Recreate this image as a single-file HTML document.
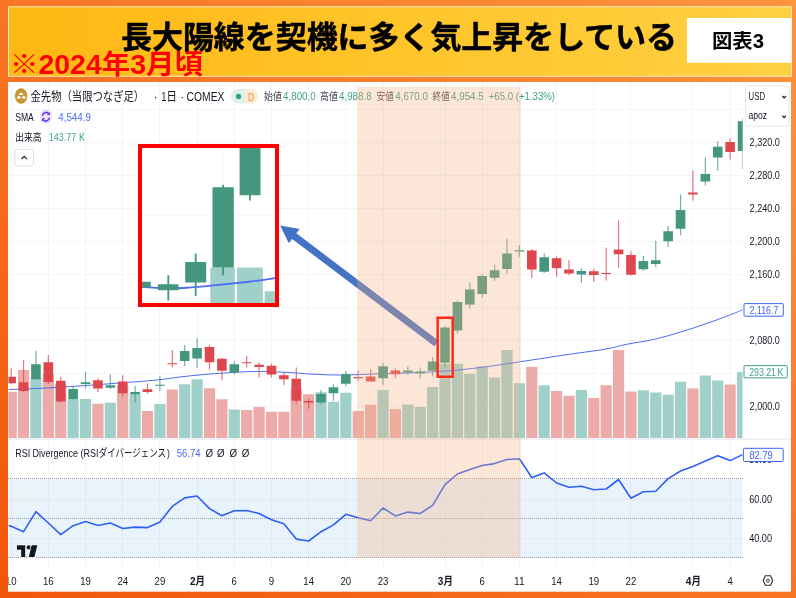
<!DOCTYPE html>
<html><head><meta charset="utf-8"><title>chart</title>
<style>html,body{margin:0;padding:0;background:#F87325;}body{width:796px;height:598px;overflow:hidden;font-family:"Liberation Sans",sans-serif;}svg{display:block;will-change:transform}</style>
</head><body>
<svg width="796" height="598" viewBox="0 0 796 598" font-family="'Liberation Sans', 'Noto Sans CJK JP', sans-serif"><defs><clipPath id="ta"><rect x="8.5" y="570" width="782" height="21"/></clipPath></defs><defs>
<linearGradient id="bg" x1="0" y1="1" x2="1" y2="0"><stop offset="0" stop-color="#F1560A"/><stop offset="1" stop-color="#FF943E"/></linearGradient>
<linearGradient id="tb" x1="0" y1="0" x2="1" y2="0"><stop offset="0" stop-color="#FFB813"/><stop offset="1" stop-color="#FFD142"/></linearGradient>
<clipPath id="plot"><rect x="8.5" y="81" width="734" height="358"/></clipPath>
<clipPath id="rsi"><rect x="8.5" y="440" width="734.3" height="126"/></clipPath>
<clipPath id="inset"><rect x="142" y="148" width="133" height="155"/></clipPath>
</defs>
<rect width="796" height="598" fill="url(#bg)"/>
<rect x="8.5" y="6.7" width="783" height="69.6" fill="url(#tb)" stroke="#FFE7BE" stroke-width="1"/>
<text x="121" y="47.5" font-size="31" font-weight="bold" fill="#000" stroke="#000" stroke-width="0.5" stroke-linejoin="round" textLength="556" lengthAdjust="spacingAndGlyphs">長大陽線を契機に多く気上昇をしている</text>
<text x="10" y="74.2" font-size="27" font-weight="bold" fill="#FF0000" textLength="193" lengthAdjust="spacingAndGlyphs">※2024年3月頃</text>
<rect x="687" y="18" width="104.5" height="44.8" fill="#fff"/>
<text x="712" y="48.2" font-size="19.5" font-weight="bold" fill="#000" textLength="52" lengthAdjust="spacingAndGlyphs">図表3</text>
<rect x="8" y="82" width="783" height="509.7" fill="#fff"/>
<path d="M8.5 109.5H742.5M8.5 142.5H742.5M8.5 175.5H742.5M8.5 208.5H742.5M8.5 241.5H742.5M8.5 274.5H742.5M8.5 307.5H742.5M8.5 340.5H742.5M8.5 373.5H742.5M8.5 406.5H742.5M11.5 82V438.5M48.5 82V438.5M85.5 82V438.5M122.5 82V438.5M159.5 82V438.5M197.5 82V438.5M234.5 82V438.5M271.5 82V438.5M308.5 82V438.5M345.5 82V438.5M383.5 82V438.5M445.5 82V438.5M482.5 82V438.5M519.5 82V438.5M556.5 82V438.5M593.5 82V438.5M630.5 82V438.5M692.5 82V438.5M730.5 82V438.5M8.5 499.5H742.5M8.5 538.5H742.5M11.5 440V568.5M48.5 440V568.5M85.5 440V568.5M122.5 440V568.5M159.5 440V568.5M197.5 440V568.5M234.5 440V568.5M271.5 440V568.5M308.5 440V568.5M345.5 440V568.5M383.5 440V568.5M445.5 440V568.5M482.5 440V568.5M519.5 440V568.5M556.5 440V568.5M593.5 440V568.5M630.5 440V568.5M692.5 440V568.5M730.5 440V568.5" stroke="#F4F5F6" stroke-width="1" fill="none"/>
<path d="M8.5 439H791" stroke="#E0E3EB" stroke-width="1"/>
<g clip-path="url(#plot)">
<path d="M30.35 377.2h11.2V438.0h-11.2zM67.54 399.3h11.2V438.0h-11.2zM79.94 398.9h11.2V438.0h-11.2zM104.73 402.8h11.2V438.0h-11.2zM129.52 393.9h11.2V438.0h-11.2zM154.31 404h11.2V438.0h-11.2zM179.1 384.3h11.2V438.0h-11.2zM191.5 379.2h11.2V438.0h-11.2zM228.69 409.4h11.2V438.0h-11.2zM315.46 392.3h11.2V438.0h-11.2zM327.86 401.8h11.2V438.0h-11.2zM340.25 392.7h11.2V438.0h-11.2zM377.44 389.9h11.2V438.0h-11.2zM402.23 404.4h11.2V438.0h-11.2zM414.63 407h11.2V438.0h-11.2zM427.02 387.1h11.2V438.0h-11.2zM439.42 363.8h11.2V438.0h-11.2zM451.82 363.8h11.2V438.0h-11.2zM464.21 373.8h11.2V438.0h-11.2zM476.61 366.2h11.2V438.0h-11.2zM489 377.4h11.2V438.0h-11.2zM501.4 350.1h11.2V438.0h-11.2zM513.8 383.3h11.2V438.0h-11.2zM538.59 385.3h11.2V438.0h-11.2zM575.78 390.1h11.2V438.0h-11.2zM637.76 390.3h11.2V438.0h-11.2zM650.15 392.4h11.2V438.0h-11.2zM662.55 394.8h11.2V438.0h-11.2zM674.94 381.7h11.2V438.0h-11.2zM699.74 375.6h11.2V438.0h-11.2zM712.13 380.4h11.2V438.0h-11.2zM736.92 372.1h11.2V438.0h-11.2z" fill="#A0D0CA"/><path d="M5.56 391.7h11.2V438.0h-11.2zM17.96 370h11.2V438.0h-11.2zM42.75 373.8h11.2V438.0h-11.2zM55.14 383.9h11.2V438.0h-11.2zM92.33 403.8h11.2V438.0h-11.2zM117.12 385.3h11.2V438.0h-11.2zM141.92 411h11.2V438.0h-11.2zM166.71 389.5h11.2V438.0h-11.2zM203.9 388.3h11.2V438.0h-11.2zM216.29 399.3h11.2V438.0h-11.2zM241.08 410h11.2V438.0h-11.2zM253.48 407h11.2V438.0h-11.2zM265.88 411.8h11.2V438.0h-11.2zM278.27 411.8h11.2V438.0h-11.2zM290.67 388.9h11.2V438.0h-11.2zM303.06 394.3h11.2V438.0h-11.2zM352.65 411h11.2V438.0h-11.2zM365.04 404.8h11.2V438.0h-11.2zM389.84 409h11.2V438.0h-11.2zM526.19 366.8h11.2V438.0h-11.2zM550.98 390.9h11.2V438.0h-11.2zM563.38 395.7h11.2V438.0h-11.2zM588.17 397.9h11.2V438.0h-11.2zM600.57 385.3h11.2V438.0h-11.2zM612.96 349.9h11.2V438.0h-11.2zM625.36 391.6h11.2V438.0h-11.2zM687.34 388.4h11.2V438.0h-11.2zM724.53 384.4h11.2V438.0h-11.2z" fill="#ECAAA8"/>
<path d="M8 389.6C13.37 389.38 28.13 388.92 40.2 388.3C52.27 387.68 67 386.8 80.4 385.9C93.8 385 108.17 383.85 120.6 382.9C133.03 381.95 143.4 381.38 155 380.2C166.6 379.02 177.63 377.07 190.2 375.8C202.77 374.53 218.67 373.33 230.4 372.6C242.13 371.87 250.55 371.4 260.6 371.4C270.65 371.4 282.47 372.17 290.7 372.6C298.93 373.03 301.75 373.6 310 374C318.25 374.4 328.47 375.03 340.2 375C351.93 374.97 367 374.23 380.4 373.8C393.8 373.37 408.17 372.98 420.6 372.4C433.03 371.82 443.4 371.33 455 370.3C466.6 369.27 477.63 367.88 490.2 366.2C502.77 364.52 517 362.22 530.4 360.2C543.8 358.18 558.17 355.93 570.6 354.1C583.03 352.27 595.65 350.83 605 349.2C614.35 347.57 618.62 345.92 626.7 344.3C634.78 342.68 644.58 341.52 653.5 339.5C662.42 337.48 671.28 334.88 680.2 332.2C689.12 329.52 698.08 326.52 707 323.4C715.92 320.28 727.78 315.82 733.7 313.5C739.62 311.18 741.03 310.17 742.5 309.5" stroke="#4A6CF7" stroke-width="1" fill="none"/>
<path d="M35.35 350.9h1.2V379.2h-1.2zM72.54 385.7h1.2V399.3h-1.2zM84.94 371.8h1.2V388.3h-1.2zM109.73 374.2h1.2V388.9h-1.2zM134.52 385.9h1.2V402.8h-1.2zM159.31 376.2h1.2V390.7h-1.2zM184.1 345.1h1.2V366.2h-1.2zM196.5 338h1.2V367.8h-1.2zM233.69 361.2h1.2V374.2h-1.2zM320.46 389.9h1.2V404.4h-1.2zM332.86 384.3h1.2V400.8h-1.2zM345.25 371.2h1.2V386.3h-1.2zM382.44 362.8h1.2V384.9h-1.2zM407.23 366.2h1.2V374.6h-1.2zM419.63 367.4h1.2V378.2h-1.2zM432.02 357.1h1.2V376.6h-1.2zM444.42 325.9h1.2V367.2h-1.2zM456.82 300.4h1.2V333.6h-1.2zM469.21 282.3h1.2V308.4h-1.2zM481.61 273.9h1.2V297.4h-1.2zM494 264.6h1.2V280.7h-1.2zM506.4 239.1h1.2V273.3h-1.2zM518.8 245.1h1.2V256.8h-1.2zM543.59 253.6h1.2V272.9h-1.2zM580.78 268.3h1.2V283h-1.2zM642.76 255.9h1.2V270.8h-1.2zM655.15 240.8h1.2V267.3h-1.2zM667.55 226.1h1.2V246.8h-1.2zM679.94 194.5h1.2V235.2h-1.2zM704.74 157.4h1.2V185.5h-1.2zM717.13 140.9h1.2V170.4h-1.2zM741.92 118.2h1.2V169.4h-1.2z" fill="#45967F" opacity="0.75"/><path d="M10.56 368.2h1.2V384.3h-1.2zM22.96 360.2h1.2V391.9h-1.2zM47.75 354.9h1.2V383.9h-1.2zM60.14 376.8h1.2V402.4h-1.2zM97.33 378.2h1.2V391.9h-1.2zM122.12 375.2h1.2V396.7h-1.2zM146.92 383.3h1.2V393.7h-1.2zM171.71 350.1h1.2V367.6h-1.2zM208.9 344.7h1.2V369.6h-1.2zM221.29 357.7h1.2V380.3h-1.2zM246.08 356.1h1.2V367.6h-1.2zM258.48 362.2h1.2V377.6h-1.2zM270.88 363.6h1.2V377.6h-1.2zM283.27 372.2h1.2V384.9h-1.2zM295.67 367.6h1.2V403.8h-1.2zM308.06 398.3h1.2V408.8h-1.2zM357.65 370.6h1.2V380.7h-1.2zM370.04 369.2h1.2V381.5h-1.2zM394.84 368.2h1.2V378.2h-1.2zM531.19 249.1h1.2V277.7h-1.2zM555.98 256.6h1.2V276.7h-1.2zM568.38 260.2h1.2V275.3h-1.2zM593.17 268.9h1.2V282h-1.2zM605.57 247.8h1.2V280.4h-1.2zM617.96 220.5h1.2V267.7h-1.2zM630.36 251.3h1.2V275.6h-1.2zM692.34 170.4h1.2V200.6h-1.2zM729.53 138.3h1.2V159.4h-1.2z" fill="#DE474D" opacity="0.75"/>
<path d="M31.15 364.2h9.6v15h-9.6zM68.34 388.9h9.6v10.4h-9.6zM80.74 382.3h9.6v1.6h-9.6zM105.53 385.3h9.6v2.4h-9.6zM130.32 391.9h9.6v2.4h-9.6zM155.11 384.7h9.6v1h-9.6zM179.9 351.1h9.6v9.9h-9.6zM192.3 348.1h9.6v10.4h-9.6zM229.49 364.2h9.6v8h-9.6zM316.26 393.9h9.6v8.5h-9.6zM328.66 387.3h9.6v6h-9.6zM341.05 374.2h9.6v9.5h-9.6zM378.24 366.2h9.6v12h-9.6zM403.03 370.6h9.6v2h-9.6zM415.43 371.6h9.6v1.8h-9.6zM427.82 361.6h9.6v9.2h-9.6zM440.22 327.5h9.6v35.3h-9.6zM452.62 302h9.6v28.6h-9.6zM465.01 289.5h9.6v14.9h-9.6zM477.41 275.9h9.6v18.1h-9.6zM489.8 270.3h9.6v7.4h-9.6zM502.2 253.4h9.6v15.6h-9.6zM514.6 250.2h9.6v1.2h-9.6zM539.39 257.2h9.6v14.5h-9.6zM576.58 271h9.6v3.6h-9.6zM638.56 260.9h9.6v8.4h-9.6zM650.95 260.3h9.6v3.6h-9.6zM663.35 231.2h9.6v10h-9.6zM675.74 210h9.6v18.7h-9.6zM700.54 174h9.6v7.5h-9.6zM712.93 146.7h9.6v10.7h-9.6zM737.72 121.2h9.6v29.7h-9.6z" fill="#45967F"/><path d="M6.36 376.8h9.6v6.5h-9.6zM18.76 382.3h9.6v8.6h-9.6zM43.55 362.2h9.6v19.7h-9.6zM55.94 380.7h9.6v20.7h-9.6zM93.13 380.3h9.6v8.2h-9.6zM117.92 381.5h9.6v11.8h-9.6zM142.72 389.3h9.6v2.6h-9.6zM167.51 363.2h9.6v1h-9.6zM204.7 347.1h9.6v15.1h-9.6zM217.09 358.7h9.6v12.1h-9.6zM241.88 362.2h9.6v1h-9.6zM254.28 364.8h9.6v2.2h-9.6zM266.68 365.8h9.6v8.8h-9.6zM279.07 375.2h9.6v4h-9.6zM291.47 378.8h9.6v22h-9.6zM303.86 401h9.6v1.4h-9.6zM353.45 377h9.6v1.2h-9.6zM365.84 376.6h9.6v4.9h-9.6zM390.64 370.6h9.6v3.6h-9.6zM526.99 250.6h9.6v19h-9.6zM551.78 258.2h9.6v10h-9.6zM564.18 269.6h9.6v3.9h-9.6zM588.97 271.2h9.6v3.8h-9.6zM601.37 273h9.6v1h-9.6zM613.76 249.6h9.6v4.7h-9.6zM626.16 254.9h9.6v19.9h-9.6zM688.14 192.5h9.6v2h-9.6zM725.33 141.9h9.6v10h-9.6z" fill="#DE474D"/>
</g>
<rect x="8.5" y="478.7" width="734.3" height="79" fill="#E9F3FC"/>
<path d="M8.5 499.5H742.5M8.5 538.5H742.5M11.5 478.7V557.7M48.5 478.7V557.7M85.5 478.7V557.7M122.5 478.7V557.7M159.5 478.7V557.7M197.5 478.7V557.7M234.5 478.7V557.7M271.5 478.7V557.7M308.5 478.7V557.7M345.5 478.7V557.7M383.5 478.7V557.7M445.5 478.7V557.7M482.5 478.7V557.7M519.5 478.7V557.7M556.5 478.7V557.7M593.5 478.7V557.7M630.5 478.7V557.7M692.5 478.7V557.7M730.5 478.7V557.7" stroke="#E1EAF2" stroke-width="1" fill="none"/>
<path d="M8 478.5H743" stroke="#9A9DA6" stroke-width="1" stroke-dasharray="1 1" fill="none" shape-rendering="crispEdges"/>
<path d="M8 518.5H743" stroke="#9A9DA6" stroke-width="1" stroke-dasharray="1 1" fill="none" shape-rendering="crispEdges"/>
<path d="M8 557.5H743" stroke="#9A9DA6" stroke-width="1" stroke-dasharray="1 1" fill="none" shape-rendering="crispEdges"/>
<g clip-path="url(#rsi)"><path d="M8.3 525.6L11.16 526.3L23.56 531.7L35.95 511.6L48.35 523L60.74 534.7L73.14 525.7L85.54 521.6L97.93 525.5L110.33 523L122.72 528.5L135.12 527.1L147.52 527.6L159.91 521.9L172.31 506.4L184.7 497.9L197.1 496L209.5 508.6L221.89 515.7L234.29 510.7L246.68 510.5L259.08 513.5L271.48 519.7L283.87 523.8L296.27 539.1L308.66 541L321.06 531.7L333.46 524.9L345.85 514.3L358.25 517.8L370.64 520.8L383.04 508L395.44 515.9L407.83 512.1L420.23 513.5L432.62 505.3L445.02 484.6L457.42 474L469.81 469.6L482.21 465.5L494.6 463.6L507 459.5L519.4 458.7L531.79 477.5L544.19 472.9L556.58 483L568.98 487.3L581.38 486.2L593.77 489.8L606.17 489L618.56 479.5L630.96 498.3L643.36 491.7L655.75 491.2L668.15 478.6L680.54 471L692.94 466.4L705.34 460.9L717.73 455.7L730.13 460.6L742.52 454.6" stroke="#2F5FF5" stroke-width="1.6" fill="none" stroke-linejoin="round"/></g>
<ellipse cx="21.15" cy="96.05" rx="6.25" ry="7.75" fill="#C8962E"/>
<path d="M18.9 95.1q.3-2.6 2.2-2.6t2.2 2.6zM16.7 98.6q.3-2.8 2.1-2.8t2 2.8zM21.8 98.6q.2-2.8 2-2.8t2.1 2.8z" fill="#fff"/>
<text x="30.5" y="101.1" font-size="12.3" fill="#131722" textLength="113.7" lengthAdjust="spacingAndGlyphs">金先物（当限つなぎ足）</text>
<text x="153.4" y="101.1" font-size="12.3" fill="#131722" >·</text>
<text x="161.3" y="101.1" font-size="12.3" fill="#131722" textLength="5.2" lengthAdjust="spacingAndGlyphs" >1</text>
<text x="166.6" y="101.1" font-size="12.3" fill="#131722" textLength="10.4" lengthAdjust="spacingAndGlyphs">日</text>
<text x="180.2" y="101.1" font-size="12.3" fill="#131722" >·</text>
<text x="186.6" y="101.1" font-size="12.3" fill="#131722" textLength="37.8" lengthAdjust="spacingAndGlyphs" >COMEX</text>
<path d="M238.1 89h6.8v14.4h-6.8a7.2 7.2 0 0 1 0-14.4z" fill="#DDEFE9"/>
<path d="M244.9 89h6.1a7.2 7.2 0 0 1 0 14.4h-6.1z" fill="#FDEBD7"/>
<circle cx="238.5" cy="96.4" r="2.6" fill="#2E9E85"/>
<text x="247.9" y="100.5" font-size="11" fill="#F0892B" textLength="6.1" lengthAdjust="spacingAndGlyphs" >D</text>
<text x="264" y="100.2" font-size="10.7" fill="#40444F" textLength="17.8" lengthAdjust="spacingAndGlyphs">始値</text>
<text x="283.1" y="100.2" font-size="10.7" fill="#3D9F8B" textLength="32.5" lengthAdjust="spacingAndGlyphs" >4,800.0</text>
<text x="320" y="100.2" font-size="10.7" fill="#40444F" textLength="17.8" lengthAdjust="spacingAndGlyphs">高値</text>
<text x="339" y="100.2" font-size="10.7" fill="#3D9F8B" textLength="32.6" lengthAdjust="spacingAndGlyphs" >4,988.8</text>
<text x="376.6" y="100.2" font-size="10.7" fill="#40444F" textLength="17.4" lengthAdjust="spacingAndGlyphs">安値</text>
<text x="395.3" y="100.2" font-size="10.7" fill="#3D9F8B" textLength="32.6" lengthAdjust="spacingAndGlyphs" >4,670.0</text>
<text x="432.6" y="100.2" font-size="10.7" fill="#40444F" textLength="17.2" lengthAdjust="spacingAndGlyphs">終値</text>
<text x="451.1" y="100.2" font-size="10.7" fill="#3D9F8B" textLength="32.6" lengthAdjust="spacingAndGlyphs" >4,954.5</text>
<text x="488.7" y="100.2" font-size="10.7" fill="#3D9F8B" textLength="66.3" lengthAdjust="spacingAndGlyphs" >+65.0 (+1.33%)</text>
<text x="15.2" y="120.8" font-size="10.8" fill="#131722" textLength="18.6" lengthAdjust="spacingAndGlyphs" >SMA</text>
<ellipse cx="45.95" cy="116.7" rx="6.25" ry="7.5" fill="#ECE4FB"/>
<g transform="translate(45.95 116.7) scale(0.86 1)"><path d="M-4.1 -0.9a4.2 4.2 0 0 1 7.4 -1.9M4.1 0.9a4.2 4.2 0 0 1 -7.4 1.9" stroke="#6236F0" stroke-width="1.7" fill="none"/><path d="M4.6 -5.0v3.4h-3.4zM-4.6 5.0v-3.4h3.4z" fill="#6236F0"/></g>
<text x="58.3" y="120.8" font-size="10.5" fill="#4A6CF7" textLength="32.6" lengthAdjust="spacingAndGlyphs" >4,544.9</text>
<text x="15.2" y="140.7" font-size="10.5" fill="#131722" textLength="26.4" lengthAdjust="spacingAndGlyphs">出来高</text>
<text x="48.8" y="140.7" font-size="10.5" fill="#3D9F8B" textLength="27.4" lengthAdjust="spacingAndGlyphs" >143.77</text>
<text x="78.9" y="140.7" font-size="10.5" fill="#3D9F8B" textLength="6" lengthAdjust="spacingAndGlyphs" >K</text>
<rect x="14.8" y="149.3" width="18.8" height="16.7" rx="2.5" fill="#fff" stroke="#DDDFE4" stroke-width="1"/>
<path d="M21.5 159.2l2.7-2.9 2.7 2.9" stroke="#131722" stroke-width="1.1" fill="none"/>
<rect x="745.5" y="86" width="43.7" height="40.3" rx="3" fill="#fff" stroke="#E6E8EC" stroke-width="1"/>
<text x="748.6" y="99.8" font-size="10.8" fill="#131722" textLength="16.4" lengthAdjust="spacingAndGlyphs" >USD</text>
<text x="748.4" y="119.4" font-size="10.8" fill="#131722" textLength="18.6" lengthAdjust="spacingAndGlyphs" >apoz</text>
<path d="M782.3 96.0l1.8 1.9 1.8-1.9" stroke="#131722" stroke-width="1.2" fill="none"/>
<path d="M782.3 115.7l1.8 1.9 1.8-1.9" stroke="#131722" stroke-width="1.2" fill="none"/>
<text x="749.6" y="145.7" font-size="10.8" fill="#131722" textLength="30.2" lengthAdjust="spacingAndGlyphs" >2,320.0</text>
<text x="749.6" y="178.7" font-size="10.8" fill="#131722" textLength="30.2" lengthAdjust="spacingAndGlyphs" >2,280.0</text>
<text x="749.6" y="211.8" font-size="10.8" fill="#131722" textLength="30.2" lengthAdjust="spacingAndGlyphs" >2,240.0</text>
<text x="749.6" y="244.8" font-size="10.8" fill="#131722" textLength="30.2" lengthAdjust="spacingAndGlyphs" >2,200.0</text>
<text x="749.6" y="277.9" font-size="10.8" fill="#131722" textLength="30.2" lengthAdjust="spacingAndGlyphs" >2,160.0</text>
<text x="749.6" y="344" font-size="10.8" fill="#131722" textLength="30.2" lengthAdjust="spacingAndGlyphs" >2,080.0</text>
<text x="749.6" y="409.9" font-size="10.8" fill="#131722" textLength="30.2" lengthAdjust="spacingAndGlyphs" >2,000.0</text>
<rect x="744" y="303.6" width="39.3" height="12.6" rx="1" fill="#fff" stroke="#3D66F5" stroke-width="1"/>
<text x="749.6" y="313.6" font-size="10.8" fill="#3D66F5" textLength="28.8" lengthAdjust="spacingAndGlyphs" >2,116.7</text>
<rect x="744" y="365.6" width="43.3" height="12.2" rx="1" fill="#fff" stroke="#3D9F8B" stroke-width="1"/>
<text x="749.2" y="375.5" font-size="10.8" fill="#3D9F8B" textLength="26.8" lengthAdjust="spacingAndGlyphs" >293.21</text>
<text x="777.6" y="375.5" font-size="10.8" fill="#3D9F8B" textLength="6" lengthAdjust="spacingAndGlyphs" >K</text>
<text x="749.2" y="463.4" font-size="10.8" fill="#131722" textLength="22.8" lengthAdjust="spacingAndGlyphs" >80.00</text>
<text x="749.2" y="503.3" font-size="10.8" fill="#131722" textLength="22.8" lengthAdjust="spacingAndGlyphs" >60.00</text>
<text x="749.2" y="542.3" font-size="10.8" fill="#131722" textLength="22.8" lengthAdjust="spacingAndGlyphs" >40.00</text>
<rect x="743.4" y="448.3" width="39.8" height="13.2" rx="1" fill="#fff" stroke="#3D66F5" stroke-width="1"/>
<text x="749.4" y="458.7" font-size="10.8" fill="#3D66F5" textLength="23.4" lengthAdjust="spacingAndGlyphs" >82.79</text>
<text x="15.2" y="456.9" font-size="10.8" fill="#131722" textLength="83.2" lengthAdjust="spacingAndGlyphs" >RSI Divergence (RSI</text>
<text x="98.8" y="456.9" font-size="10.8" fill="#131722" textLength="67.2" lengthAdjust="spacingAndGlyphs">ダイバージェンス</text>
<text x="167" y="456.9" font-size="10.8" fill="#131722" textLength="2.8" lengthAdjust="spacingAndGlyphs" >)</text>
<text x="176.7" y="456.9" font-size="10.8" fill="#4A6CF7" textLength="23.9" lengthAdjust="spacingAndGlyphs" >56.74</text>
<text x="205.6" y="456.9" font-size="10.8" fill="#131722" textLength="7.6" lengthAdjust="spacingAndGlyphs" >Ø</text>
<text x="217.1" y="456.9" font-size="10.8" fill="#131722" textLength="7.6" lengthAdjust="spacingAndGlyphs" >Ø</text>
<text x="229.5" y="456.9" font-size="10.8" fill="#131722" textLength="7.6" lengthAdjust="spacingAndGlyphs" >Ø</text>
<text x="241.7" y="456.9" font-size="10.8" fill="#131722" textLength="7.6" lengthAdjust="spacingAndGlyphs" >Ø</text>
<g fill="#131722" stroke="#fff" stroke-width="1.2" paint-order="stroke"><path d="M16.9 545.2h8.3v11.7h-4v-7.2h-4.3z"/><circle cx="28.7" cy="547.4" r="2.1" stroke-width="0.6"/><path d="M31.6 545.2h5.8l-3 11.7h-5.6z"/></g>
<g clip-path="url(#ta)">
<text x="5.82" y="585.1" font-size="10.8" fill="#131722" textLength="10.68" lengthAdjust="spacingAndGlyphs" >10</text>
<text x="43.01" y="585.1" font-size="10.8" fill="#131722" textLength="10.68" lengthAdjust="spacingAndGlyphs" >16</text>
<text x="80.2" y="585.1" font-size="10.8" fill="#131722" textLength="10.68" lengthAdjust="spacingAndGlyphs" >19</text>
<text x="117.38" y="585.1" font-size="10.8" fill="#131722" textLength="10.68" lengthAdjust="spacingAndGlyphs" >24</text>
<text x="154.57" y="585.1" font-size="10.8" fill="#131722" textLength="10.68" lengthAdjust="spacingAndGlyphs" >29</text>
<text x="231.62" y="585.1" font-size="10.8" fill="#131722" textLength="5.34" lengthAdjust="spacingAndGlyphs" >6</text>
<text x="268.81" y="585.1" font-size="10.8" fill="#131722" textLength="5.34" lengthAdjust="spacingAndGlyphs" >9</text>
<text x="303.32" y="585.1" font-size="10.8" fill="#131722" textLength="10.68" lengthAdjust="spacingAndGlyphs" >14</text>
<text x="340.51" y="585.1" font-size="10.8" fill="#131722" textLength="10.68" lengthAdjust="spacingAndGlyphs" >20</text>
<text x="377.7" y="585.1" font-size="10.8" fill="#131722" textLength="10.68" lengthAdjust="spacingAndGlyphs" >23</text>
<text x="479.54" y="585.1" font-size="10.8" fill="#131722" textLength="5.34" lengthAdjust="spacingAndGlyphs" >6</text>
<text x="514.06" y="585.1" font-size="10.8" fill="#131722" textLength="10.68" lengthAdjust="spacingAndGlyphs" >11</text>
<text x="551.24" y="585.1" font-size="10.8" fill="#131722" textLength="10.68" lengthAdjust="spacingAndGlyphs" >14</text>
<text x="588.43" y="585.1" font-size="10.8" fill="#131722" textLength="10.68" lengthAdjust="spacingAndGlyphs" >19</text>
<text x="625.62" y="585.1" font-size="10.8" fill="#131722" textLength="10.68" lengthAdjust="spacingAndGlyphs" >22</text>
<text x="727.46" y="585.1" font-size="10.8" fill="#131722" textLength="5.34" lengthAdjust="spacingAndGlyphs" >4</text>
</g>
<text x="189.9" y="585.1" font-size="10.8" fill="#131722" font-weight="bold" textLength="5.6" lengthAdjust="spacingAndGlyphs" >2</text>
<text x="195.6" y="585.1" font-size="10.8" fill="#131722" font-weight="bold" textLength="9.4" lengthAdjust="spacingAndGlyphs">月</text>
<text x="437.82" y="585.1" font-size="10.8" fill="#131722" font-weight="bold" textLength="5.6" lengthAdjust="spacingAndGlyphs" >3</text>
<text x="443.5" y="585.1" font-size="10.8" fill="#131722" font-weight="bold" textLength="9.4" lengthAdjust="spacingAndGlyphs">月</text>
<text x="685.74" y="585.1" font-size="10.8" fill="#131722" font-weight="bold" textLength="5.6" lengthAdjust="spacingAndGlyphs" >4</text>
<text x="691.4" y="585.1" font-size="10.8" fill="#131722" font-weight="bold" textLength="9.4" lengthAdjust="spacingAndGlyphs">月</text>
<path d="M765.3 575.7h5.3l2.1 4.8-2.1 4.8h-5.3l-2.1-4.8z" stroke="#2A2E39" stroke-width="1.1" fill="none" stroke-linejoin="round"/><circle cx="767.9" cy="580.6" r="1.5" stroke="#2A2E39" stroke-width="1" fill="none"/>
<path d="M280.2 225.5L288.79 243.33L292.13 238.9L434.29 346.29L438.51 340.71L296.35 233.32L299.7 228.89z" fill="#4472C4"/>
<rect x="357.1" y="86.6" width="163.7" height="471.4" fill="#F4B183" fill-opacity="0.32"/>
<rect x="437.65" y="317.75" width="15" height="59" fill="none" stroke="#FF2A1A" stroke-width="2.5"/>
<rect x="140" y="146" width="137" height="159" fill="#fff" stroke="#FF0000" stroke-width="4"/>
<g clip-path="url(#inset)">
<path d="M142 215.2H275M222.7 148V303" stroke="#F4F5F6" stroke-width="1" fill="none"/>
<path d="M210.3 267.4h24.5V303h-24.5zM237 267.4h25.8V303H237zM264.7 291.2H275V303h-10.3z" fill="#A0D0CA"/>
<path d="M142 286.9C160 288.6 175 288.4 183.6 288 C195 287.3 205 286.2 215.4 285.2 C226 284.2 237 283.1 247.2 282 C257 280.9 266 279.6 275 278.2" stroke="#4A6CF7" stroke-width="1.8" fill="none"/>
<path d="M167.4 275.3h1.8v25.1h-1.8zM194.8 253.4h1.8V296h-1.8zM222.1 184.7h1.8v90.9h-1.8zM249 190h1.8v10.6H249z" fill="#45967F"/>
<path d="M142 281.7h8.8v5.7H142zM157.8 284.2h20.7v6.1h-20.7zM185.2 262h21v20.6h-21zM212.5 187.2h21.3v80.2h-21.3zM239.6 146h20.9v49.2h-20.9z" fill="#45967F"/>
</g></svg>
</body></html>
